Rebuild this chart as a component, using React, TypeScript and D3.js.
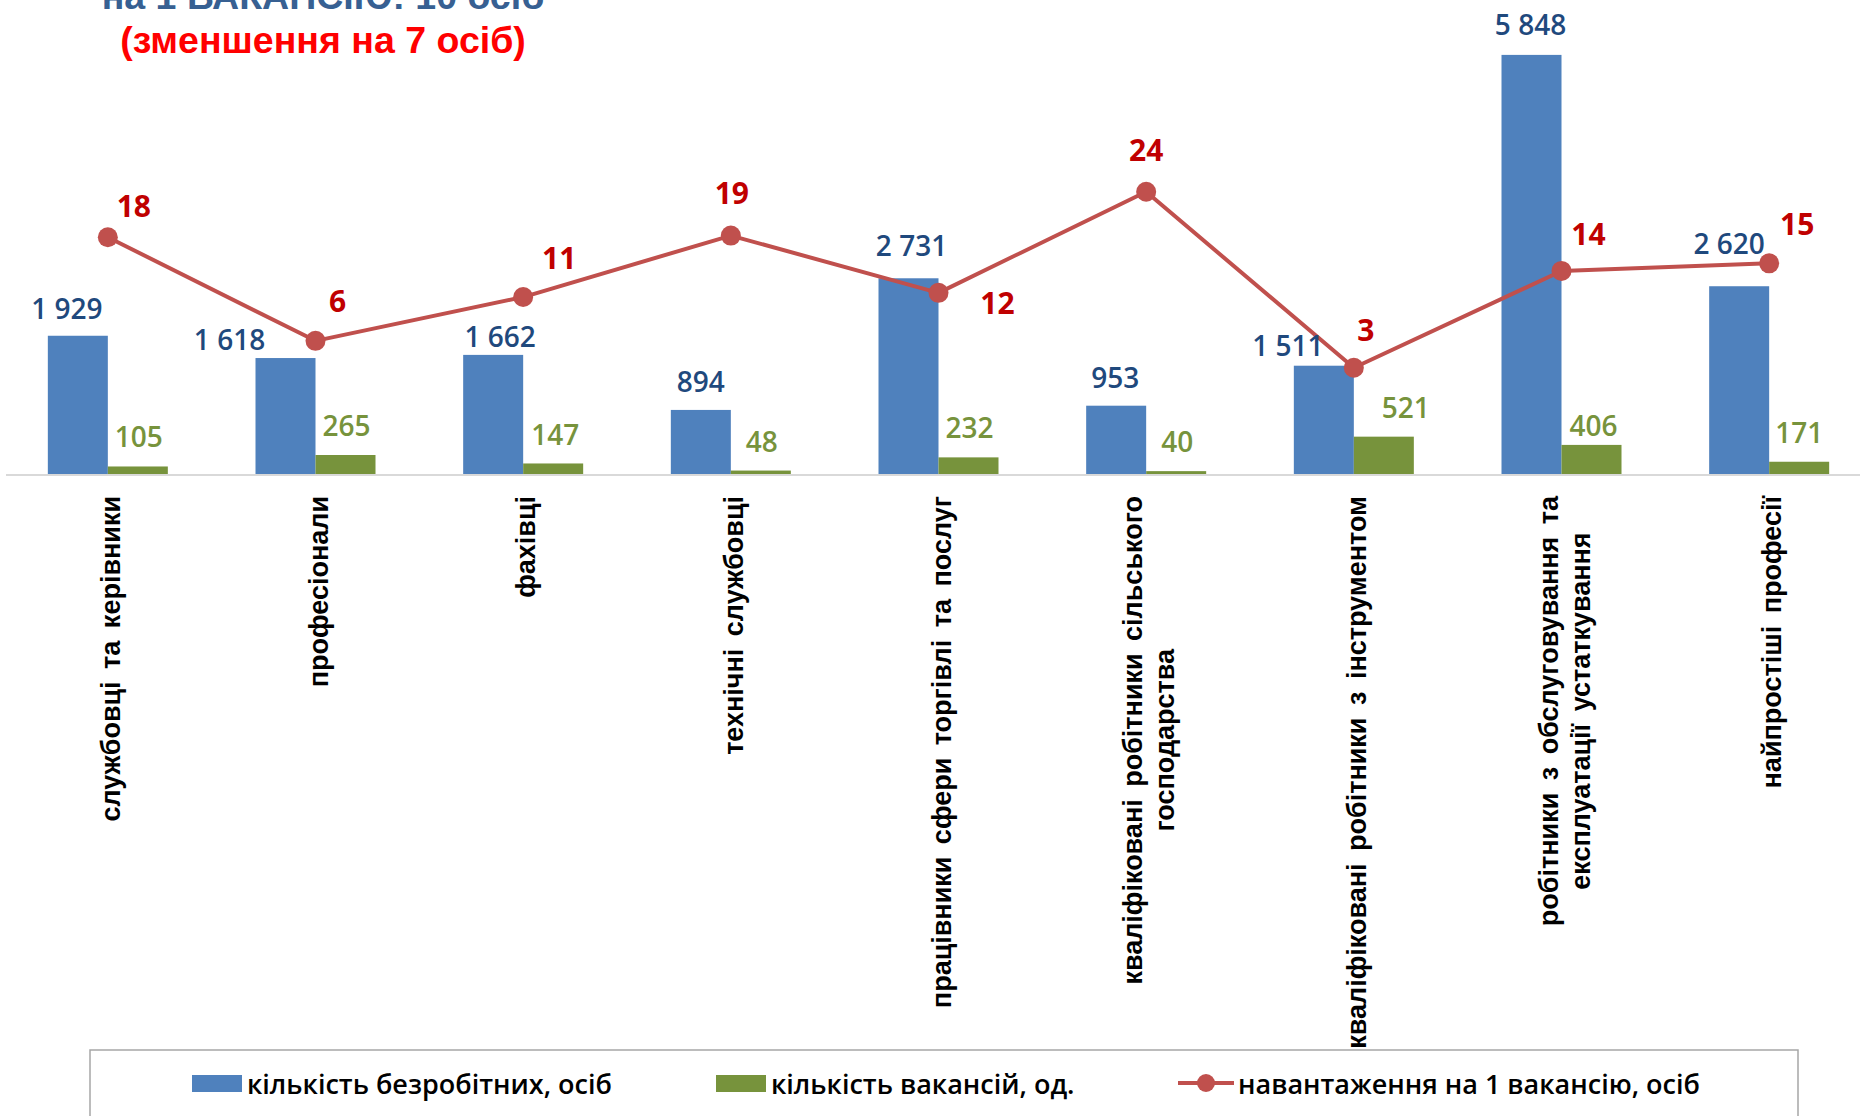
import React from "react";
import * as d3 from "d3";

const categories = [
  "службовці та керівники",
  "професіонали",
  "фахівці",
  "технічні службовці",
  "працівники сфери торгівлі та послуг",
  "кваліфіковані робітники сільського господарства",
  "кваліфіковані робітники з інструментом",
  "робітники з обслуговування та експлуатації устаткування",
  "найпростіші професії",
];
const categoryLines = [
  ["службовці та керівники"],
  ["професіонали"],
  ["фахівці"],
  ["технічні службовці"],
  ["працівники сфери торгівлі та послуг"],
  ["кваліфіковані робітники сільського", "господарства"],
  ["кваліфіковані робітники з інструментом"],
  ["робітники з обслуговування та", "експлуатації устаткування"],
  ["найпростіші професії"],
];
const unemployed = [1929, 1618, 1662, 894, 2731, 953, 1511, 5848, 2620];
const vacancies = [105, 265, 147, 48, 232, 40, 521, 406, 171];
const loadPerVacancy = [18.4, 6.1, 11.3, 18.6, 11.8, 23.8, 2.9, 14.4, 15.3];

const seriesNames = [
  "кількість безробітних, осіб",
  "кількість вакансій, од.",
  "навантаження на 1 вакансію, осіб",
];
const titleLine1 = "на 1 ВАКАНСІЮ: 10 осіб";
const titleLine2 = "(зменшення на 7 осіб)";

// label layout offsets (manual placements as in the original)
const blueLabelOffsets: [number, number][] = [
  [-11, -28], [-56, -19], [7, -19], [0, -29], [3, -33], [-1, -29], [-36, -21], [-1, -31], [-10, -43],
];
const greenLabelOffsets: [number, number][] = [
  [1, -30], [1, -30], [2, -29], [1, -30], [1, -30], [1, -30], [22, -30], [2, -20], [0, -30],
];
const redLabelOffsets: [number, number][] = [
  [26, -32], [22, -40], [36, -40], [1, -43], [59, 10], [0, -42], [12, -38], [27, -37], [28, -40],
];

const W = 1860;
const H = 1116;
const BLUE = "#4F81BD";
const GREEN = "#77933C";
const RED = "#C0504D";
const fmt = (v: number) => d3.format(",")(v).replace(/,/g, " ");

function measure(text: string, font: string, wordSpacing: number): number {
  const c = document.createElement("canvas");
  const ctx = c.getContext("2d");
  const spaces = (text.match(/ /g) || []).length;
  if (!ctx) return text.length * 14;
  ctx.font = font;
  return ctx.measureText(text).width + spaces * wordSpacing;
}

export default function App() {
  const x = d3.scaleBand<string>().domain(categories).range([4, 1873]).padding(0);
  const barW = 60;
  const xs = d3.scaleBand<string>().domain(["u", "v"]).range([-barW, barW]).padding(0);
  const y = d3.scaleLinear().domain([0, 6000]).range([474, 44]);
  const y2 = d3.scaleLinear().domain([0, 24]).range([392.2, 190.1]);
  const cx = (i: number) => (x(categories[i]) as number) + x.bandwidth() / 2;

  const line = d3
    .line<number>()
    .x((_, i) => cx(i))
    .y((d) => y2(d));

  const labelFont = "'Open Sans', 'Noto Sans', sans-serif";
  const catFontSize = 27;
  const catWordSpacing = 5;
  const catFont = `bold ${catFontSize}px 'Liberation Sans', Arial, sans-serif`;
  const catTop = 496;
  const lineGap = 32;

  return (
    <svg
      width={W}
      height={H}
      viewBox={`0 0 ${W} ${H}`}
      style={{ position: "absolute", left: 0, top: 0, background: "#fff" }}
    >
      <rect x={0} y={0} width={W} height={H} fill="#fff" />
      {/* title */}
      <g fontFamily="'Liberation Sans', Arial, sans-serif" fontWeight="bold" fontSize={37.5} textAnchor="middle">
        <text x={323} y={9} fill="#376092">{titleLine1}</text>
        <text x={323} y={53} fill="#FF0000">{titleLine2}</text>
      </g>

      {/* bars */}
      {unemployed.map((v, i) => (
        <rect
          key={"u" + i}
          x={cx(i) + (xs("u") as number)}
          y={y(v)}
          width={xs.bandwidth()}
          height={y(0) - y(v)}
          fill={BLUE}
        />
      ))}
      {vacancies.map((v, i) => (
        <rect
          key={"v" + i}
          x={cx(i) + (xs("v") as number)}
          y={y(v)}
          width={xs.bandwidth()}
          height={y(0) - y(v)}
          fill={GREEN}
        />
      ))}

      {/* axis line */}
      <line x1={6} x2={W} y1={y(0) + 1} y2={y(0) + 1} stroke="#D9D9D9" strokeWidth={2} />

      {/* line series */}
      <path d={line(loadPerVacancy) || ""} fill="none" stroke={RED} strokeWidth={4} strokeLinejoin="round" />
      {loadPerVacancy.map((v, i) => (
        <circle key={"m" + i} cx={cx(i)} cy={y2(v)} r={10} fill={RED} />
      ))}

      {/* data labels */}
      <g fontFamily={labelFont} fontWeight={600} fontSize={28} textAnchor="middle" dominantBaseline="central">
        {unemployed.map((v, i) => (
          <text
            key={"lu" + i}
            x={cx(i) + (xs("u") as number) + barW / 2 + blueLabelOffsets[i][0]}
            y={y(v) + blueLabelOffsets[i][1]}
            fill="#1F497D"
          >
            {fmt(v)}
          </text>
        ))}
        {vacancies.map((v, i) => (
          <text
            key={"lv" + i}
            x={cx(i) + (xs("v") as number) + barW / 2 + greenLabelOffsets[i][0]}
            y={y(v) + greenLabelOffsets[i][1]}
            fill={GREEN}
          >
            {fmt(v)}
          </text>
        ))}
      </g>
      <g fontFamily={labelFont} fontWeight={700} fontSize={30} textAnchor="middle" dominantBaseline="central">
        {loadPerVacancy.map((v, i) => (
          <text
            key={"lr" + i}
            x={cx(i) + redLabelOffsets[i][0]}
            y={y2(v) + redLabelOffsets[i][1]}
            fill="#C00000"
          >
            {d3.format(".0f")(v)}
          </text>
        ))}
      </g>

      {/* category labels */}
      <g
        fontFamily="'Liberation Sans', Arial, sans-serif"
        fontWeight="bold"
        fontSize={catFontSize}
        fill="#000"
        style={{ wordSpacing: `${catWordSpacing}px` }}
      >
        {categoryLines.map((lines, i) => {
          const L = Math.max(...lines.map((t) => measure(t, catFont, catWordSpacing)));
          const n = lines.length;
          return (
            <g key={"c" + i} transform={`translate(${cx(i) + 3},${catTop}) rotate(-90)`}>
              {lines.map((t, j) => (
                <text
                  key={j}
                  x={-L / 2}
                  y={(j - (n - 1) / 2) * lineGap}
                  textAnchor="middle"
                  dominantBaseline="central"
                >
                  {t}
                </text>
              ))}
            </g>
          );
        })}
      </g>

      {/* legend */}
      <rect x={90} y={1050} width={1708} height={100} fill="none" stroke="#A6A6A6" strokeWidth={1.5} />
      <g fontFamily={labelFont} fontWeight={600} fontSize={27} dominantBaseline="central" fill="#000">
        <rect x={192} y={1075} width={50} height={17} fill={BLUE} />
        <text x={247} y={1083}>{seriesNames[0]}</text>
        <rect x={716} y={1075} width={50} height={17} fill={GREEN} />
        <text x={771} y={1083}>{seriesNames[1]}</text>
        <line x1={1178} x2={1234} y1={1083} y2={1083} stroke={RED} strokeWidth={4} />
        <circle cx={1206} cy={1083} r={9} fill={RED} />
        <text x={1238} y={1083}>{seriesNames[2]}</text>
      </g>
    </svg>
  );
}
